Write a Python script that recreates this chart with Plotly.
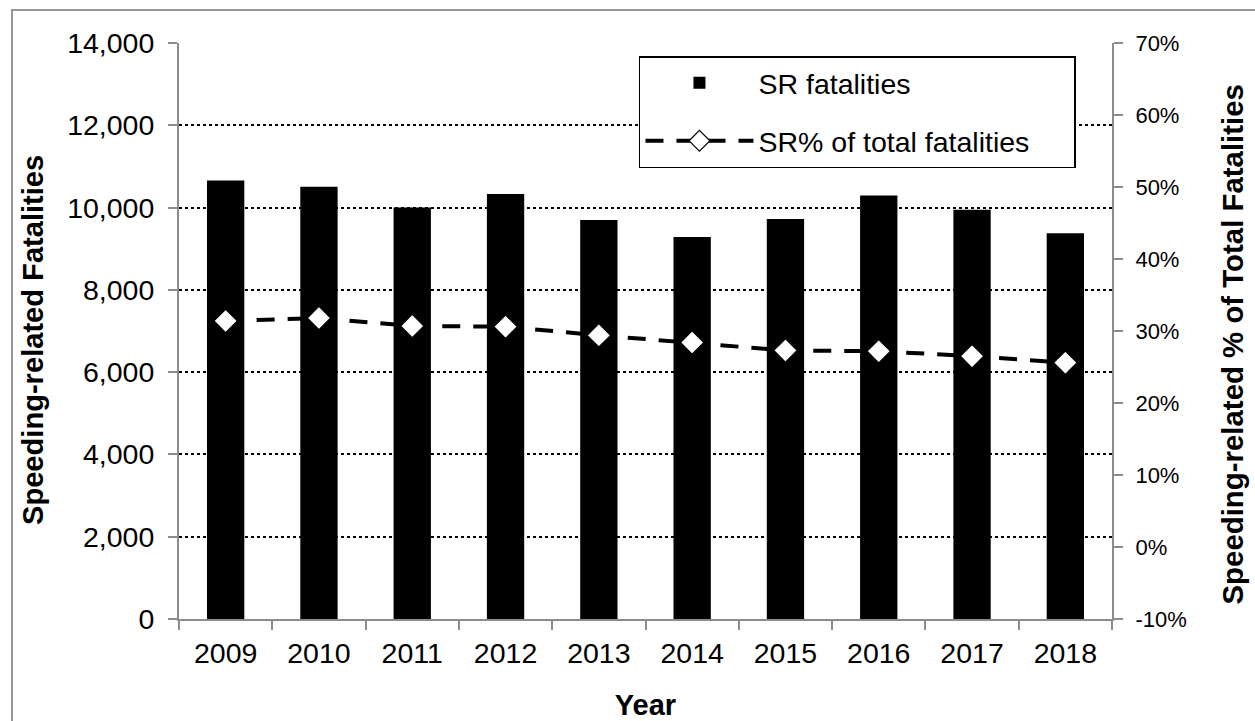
import plotly.graph_objects as go

years = ["2009", "2010", "2011", "2012", "2013", "2014", "2015", "2016", "2017", "2018"]
sr_fatalities = [10659, 10508, 10001, 10329, 9696, 9283, 9723, 10291, 9947, 9378]
sr_percent = [0.314, 0.318, 0.307, 0.306, 0.294, 0.284, 0.273, 0.272, 0.265, 0.256]
pct_tick_vals = [-0.1, 0.0, 0.1, 0.2, 0.3, 0.4, 0.5, 0.6, 0.7]
pct_tick_text = ["-10%", "0%", "10%", "20%", "30%", "40%", "50%", "60%", "70%"]

FONT = "Liberation Sans, Arial, sans-serif"
AXIS_GRAY = "#8c8c8c"
PAD = "\u00a0" * 5

# plot-area geometry in pixels (for placing the paper-referenced titles)
L, R, T, B = 179, 1112, 43, 619


def px(xp):
    return (xp - L) / (R - L)


def py(yp):
    return (B - yp) / (B - T)


fig = go.Figure()
fig.add_trace(go.Bar(
    x=years, y=sr_fatalities, name="SR fatalities",
    marker=dict(color="black", line=dict(width=0)),
    legendgroup="a", yaxis="y",
))
fig.add_trace(go.Scatter(
    x=years, y=sr_percent, name="SR% of total fatalities" + PAD,
    mode="lines+markers",
    line=dict(color="black", width=4, dash="18px,13px"),
    marker=dict(symbol="diamond", size=18, color="white", line=dict(width=1.2, color="black")),
    legendgroup="b", yaxis="y2",
))

fig.update_layout(
    width=1255, height=721,
    margin=dict(l=L, r=1255 - R, t=T, b=721 - B),
    paper_bgcolor="white", plot_bgcolor="white",
    font=dict(family=FONT, size=28, color="black"),
    bargap=0.6,
    showlegend=True,
    legend=dict(
        x=0.493, xanchor="left", y=0.977, yanchor="top",
        bgcolor="white", bordercolor="black", borderwidth=1.5,
        font=dict(size=28.5), itemwidth=108, tracegroupgap=18,
        traceorder="grouped",
    ),
    xaxis=dict(
        type="category", tickson="boundaries", range=[-0.5, len(years) - 0.5],
        ticks="outside", ticklen=9, tickcolor=AXIS_GRAY, tickwidth=1.5,
        showline=True, linecolor=AXIS_GRAY, linewidth=2,
        showgrid=False, automargin=False,
        tickfont=dict(size=28.5), ticklabelstandoff=8,
        title=dict(text="<b>Year</b>", font=dict(size=29), standoff=26),
    ),
    yaxis=dict(
        range=[0, 14000], dtick=2000, tickformat=",",
        ticks="outside", ticklen=9, tickcolor=AXIS_GRAY, tickwidth=1.5,
        showline=True, linecolor=AXIS_GRAY, linewidth=2,
        showgrid=True, gridcolor="black", gridwidth=1.5, griddash="dot",
        zeroline=False, automargin=False,
        tickfont=dict(size=28.5), ticklabelstandoff=8,
    ),
    yaxis2=dict(
        overlaying="y", side="right",
        range=[-0.1, 0.7], tickmode="array", tickvals=pct_tick_vals, ticktext=pct_tick_text,
        ticks="outside", ticklen=9, tickcolor=AXIS_GRAY, tickwidth=1.5,
        showline=True, linecolor=AXIS_GRAY, linewidth=2,
        showgrid=False, zeroline=False, automargin=False,
        tickfont=dict(size=22), ticklabelstandoff=8,
    ),
    annotations=[
        dict(text="<b>Speeding-related Fatalities</b>", textangle=-90,
             xref="paper", yref="paper", x=px(33), y=py(340),
             xanchor="center", yanchor="middle", showarrow=False,
             font=dict(size=29.1)),
        dict(text="<b>Speeding-related % of Total Fatalities</b>", textangle=-90,
             xref="paper", yref="paper", x=px(1232), y=py(344.5),
             xanchor="center", yanchor="middle", showarrow=False,
             font=dict(size=29.4)),
    ],
    shapes=[dict(
        type="rect", xref="paper", yref="paper",
        x0=px(12), x1=px(1262), y0=py(740), y1=py(10),
        line=dict(color="#969696", width=2), fillcolor="rgba(0,0,0,0)", layer="below",
    )],
)

fig.write_html(
    "out.html",
    config={"displayModeBar": False},
    post_script="document.body.style.margin='0px';document.body.style.overflow='hidden';",
)
